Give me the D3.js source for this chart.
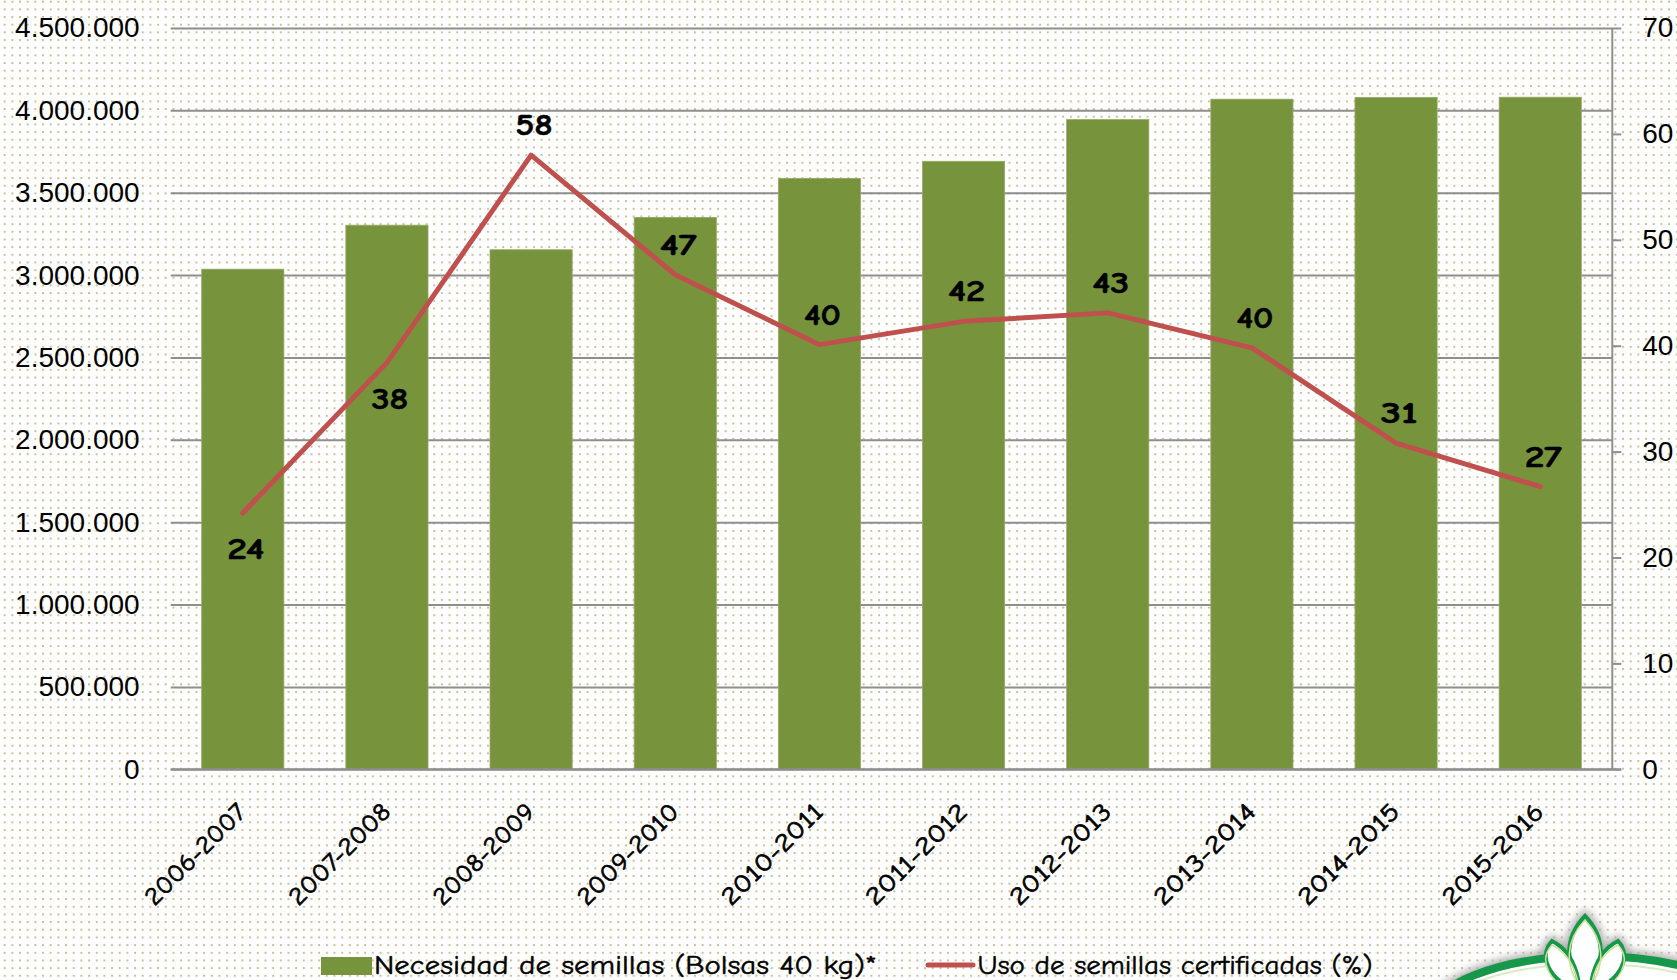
<!DOCTYPE html>
<html><head><meta charset="utf-8">
<script src="https://cdn.jsdelivr.net/npm/d3@7"></script>
<style>html,body{margin:0;padding:0;background:#fff;overflow:hidden}</style>
</head><body>
<svg id="chart" width="1677" height="980"></svg>
<script>
// ---- data ----
const categories = ['2006-2007','2007-2008','2008-2009','2009-2010','2010-2011','2011-2012','2012-2013','2013-2014','2014-2015','2015-2016'];
const necesidadSemillas = [3036000, 3303000, 3154000, 3350000, 3587000, 3691000, 3944000, 4068000, 4079000, 4080000];
const usoCertificadas = [24.2, 38.4, 58.0, 46.7, 40.1, 42.3, 43.1, 39.8, 30.8, 26.7];
const leftTicks = [0, 500000, 1000000, 1500000, 2000000, 2500000, 3000000, 3500000, 4000000, 4500000];
const rightTicks = [0, 10, 20, 30, 40, 50, 60, 70];
const labelPlacement = ['below','below','above','above','above','above','above','above','above','above'];
const legendLabels = ['Necesidad de semillas (Bolsas 40 kg)*', 'Uso de semillas certificadas (%)'];

const svg = d3.select('#chart');
const W = 1677, H = 980;
const plot = {left: 170.7, right: 1612.3, top: 28, bottom: 769.3};
const barColor = '#77933c', lineColor = '#c0504d', gridColor = '#8e8e8e';
const comic = '"Comic Sans MS","Comic Neue","DejaVu Sans",sans-serif';

// background dotted pattern
const defs = svg.append('defs');
const pat = defs.append('pattern').attr('id','dots').attr('patternUnits','userSpaceOnUse')
  .attr('width',7.67).attr('height',7.67).attr('x',3.7).attr('y',0.7);
pat.append('rect').attr('width',2).attr('height',2).attr('fill','#c9bf9b');
const blur = defs.append('filter').attr('id','glow').attr('x','-30%').attr('y','-30%').attr('width','160%').attr('height','160%');
blur.append('feGaussianBlur').attr('stdDeviation',4);

svg.append('rect').attr('width',W).attr('height',H).attr('fill','#fff');
svg.append('rect').attr('width',W).attr('height',H).attr('fill','url(#dots)');

// scales
const x = d3.scaleBand().domain(categories).range([plot.left, plot.right]).paddingInner(0.43).paddingOuter(0.215);
const yL = d3.scaleLinear().domain([0, 4500000]).range([plot.bottom, plot.top]);
const yR = d3.scaleLinear().domain([0, 70]).range([plot.bottom, plot.top]);
const loc = d3.formatLocale({decimal: ',', thousands: '.', grouping: [3], currency: ['', '']});
const fmt = loc.format(',d');

// gridlines + left axis labels
const gAxisL = svg.append('g').attr('transform', `translate(${plot.left},0)`)
  .call(d3.axisLeft(yL).tickValues(leftTicks).tickFormat(fmt).tickSize(-(plot.right - plot.left)).tickPadding(31));
gAxisL.select('.domain').remove();
gAxisL.selectAll('.tick line').attr('stroke', gridColor).attr('stroke-width', 2);
gAxisL.selectAll('.tick text').attr('fill', '#000').style('font-family', '"Liberation Sans",Arial,sans-serif').style('font-size', '28px');

// right axis
const gAxisR = svg.append('g').attr('transform', `translate(${plot.right},0)`)
  .call(d3.axisRight(yR).tickValues(rightTicks).tickSize(9).tickPadding(21));
gAxisR.select('.domain').attr('stroke', gridColor).attr('stroke-width', 2).attr('d', `M0,${plot.top}V${plot.bottom}`);
gAxisR.selectAll('.tick line').attr('stroke', gridColor).attr('stroke-width', 2);
gAxisR.selectAll('.tick text').attr('fill', '#000').style('font-family', '"Liberation Sans",Arial,sans-serif').style('font-size', '28px');

// bars
svg.append('g').selectAll('rect').data(categories).join('rect')
  .attr('x', d => x(d)).attr('width', x.bandwidth())
  .attr('y', (d, i) => yL(necesidadSemillas[i]))
  .attr('height', (d, i) => yL(0) - yL(necesidadSemillas[i]))
  .attr('fill', barColor).attr('stroke', '#93ab68').attr('stroke-width', 0.8);

// x axis baseline
svg.append('line').attr('x1', plot.left).attr('x2', plot.right + 9).attr('y1', yL(0)).attr('y2', yL(0))
  .attr('stroke', gridColor).attr('stroke-width', 2);

// category labels
svg.append('g').selectAll('text').data(categories).join('text')
  .attr('transform', d => `translate(${x(d) + x.bandwidth() / 2 + 5},${plot.bottom + 44}) rotate(-45)`)
  .attr('text-anchor', 'end')
  .attr('textLength', 132).attr('lengthAdjust', 'spacingAndGlyphs')
  .style('font-family', comic).style('font-size', '25px').attr('fill', '#000')
  .attr('stroke', '#000').attr('stroke-width', 0.7)
  .text(d => d);

// line
const cx = d => x(d) + x.bandwidth() / 2;
const line = d3.line().x((d, i) => cx(categories[i])).y(d => yR(d));
svg.append('path').datum(usoCertificadas).attr('d', line)
  .attr('fill', 'none').attr('stroke', lineColor).attr('stroke-width', 5)
  .attr('stroke-linejoin', 'round').attr('stroke-linecap', 'round');

// data labels
svg.append('g').selectAll('text').data(usoCertificadas).join('text')
  .attr('x', (d, i) => cx(categories[i]) + 3)
  .attr('y', (d, i) => labelPlacement[i] === 'above' ? yR(d) - 20 : yR(d) + 46)
  .attr('text-anchor', 'middle')
  .attr('textLength', 37).attr('lengthAdjust', 'spacingAndGlyphs')
  .style('font-family', comic).style('font-size', '31px').style('font-weight', 'bold').attr('fill', '#000')
  .attr('stroke', '#000').attr('stroke-width', 0.6)
  .text(d => Math.round(d));

// legend
const lg = svg.append('g');
lg.append('rect').attr('x', 321).attr('y', 957).attr('width', 51).attr('height', 18).attr('fill', barColor);
lg.append('text').attr('x', 374).attr('y', 974).attr('textLength', 503).attr('lengthAdjust', 'spacingAndGlyphs')
  .style('font-family', comic).style('font-size', '27px').attr('fill', '#000')
  .attr('stroke', '#000').attr('stroke-width', 0.5).text(legendLabels[0]);
lg.append('line').attr('x1', 928).attr('x2', 973).attr('y1', 965).attr('y2', 965)
  .attr('stroke', lineColor).attr('stroke-width', 5).attr('stroke-linecap', 'round');
lg.append('text').attr('x', 977.5).attr('y', 974).attr('textLength', 395).attr('lengthAdjust', 'spacingAndGlyphs')
  .style('font-family', comic).style('font-size', '27px').attr('fill', '#000')
  .attr('stroke', '#000').attr('stroke-width', 0.5).text(legendLabels[1]);

// logo (partial, bottom right)
const logo = svg.append('g');
const ring = {cx: 1592, cy: 1020, rx: 165, ry: 64};
const petals = [
  'M1585,916 C1566,936 1562,962 1585,990 C1608,962 1604,936 1585,916 Z',
  'M1552,941 C1538,956 1548,980 1580,992 C1578,968 1570,950 1552,941 Z',
  'M1618,941 C1632,956 1622,980 1590,992 C1592,968 1600,950 1618,941 Z'
];
logo.append('ellipse').attr('cx', ring.cx).attr('cy', ring.cy).attr('rx', ring.rx).attr('ry', ring.ry)
  .attr('fill', 'none').attr('stroke', '#aaa').attr('stroke-width', 14).attr('filter', 'url(#glow)');
petals.forEach(p => logo.append('path').attr('d', p).attr('fill', 'none').attr('stroke', '#aaa').attr('stroke-width', 10).attr('filter', 'url(#glow)'));
logo.append('ellipse').attr('cx', ring.cx).attr('cy', ring.cy).attr('rx', ring.rx).attr('ry', ring.ry)
  .attr('fill', '#fff').attr('stroke', '#16974a').attr('stroke-width', 8);
logo.append('ellipse').attr('cx', ring.cx).attr('cy', ring.cy).attr('rx', ring.rx - 8).attr('ry', ring.ry - 8)
  .attr('fill', 'none').attr('stroke', '#d9ecc0').attr('stroke-width', 2);
petals.forEach(p => logo.append('path').attr('d', p).attr('fill', '#fff').attr('stroke', '#16974a').attr('stroke-width', 4));
petals.forEach(p => logo.append('path').attr('d', p).attr('fill', 'none').attr('stroke', '#c8e39a').attr('stroke-width', 1.5)
  .attr('transform', 'translate(0,4)'));
</script>
</body></html>
